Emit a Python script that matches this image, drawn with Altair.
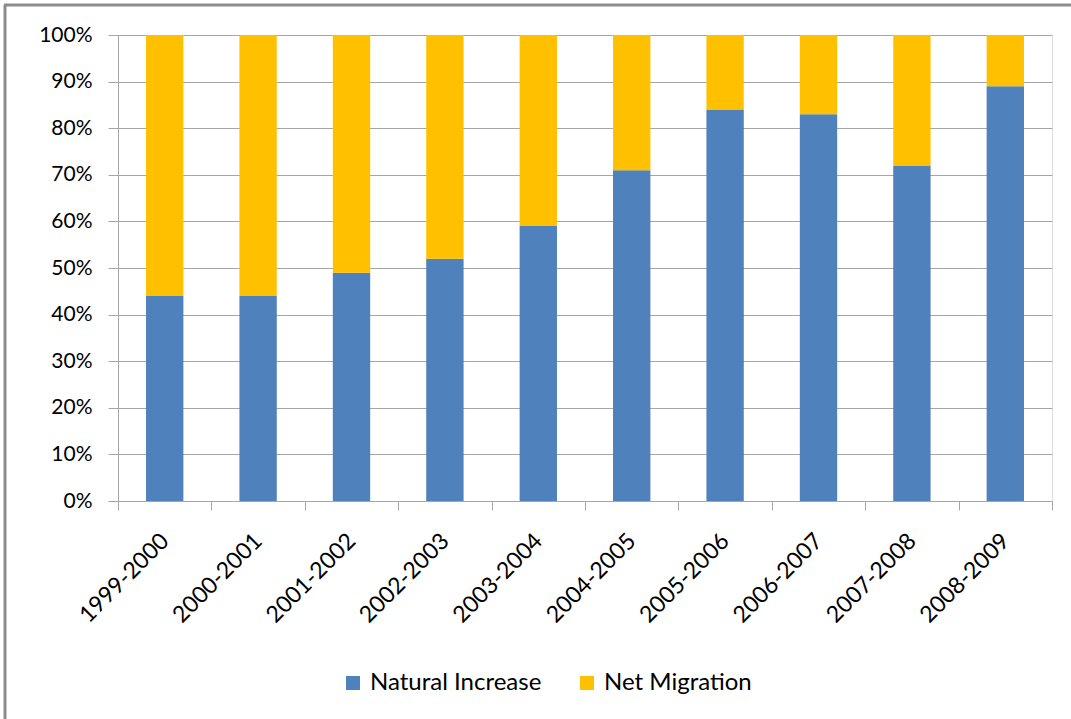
import altair as alt
import pandas as pd

periods = ["1999-2000", "2000-2001", "2001-2002", "2002-2003", "2003-2004",
           "2004-2005", "2005-2006", "2006-2007", "2007-2008", "2008-2009"]
natural_increase = [44, 44, 49, 52, 59, 71, 84, 83, 72, 89]
net_migration = [56, 56, 51, 48, 41, 29, 16, 17, 28, 11]
series = ["Natural Increase", "Net Migration"]
colors = ["#4F81BD", "#FFC000"]

rows = []
for i, p in enumerate(periods):
    rows.append({"period": p, "series": series[0], "value": natural_increase[i], "order": 0})
    rows.append({"period": p, "series": series[1], "value": net_migration[i], "order": 1})
df = pd.DataFrame(rows)

FONT = "Lato"

bars = alt.Chart(df).mark_bar(width={"band": 0.4}).encode(
    x=alt.X("period:N", sort=periods, title=None,
            scale=alt.Scale(paddingInner=0, paddingOuter=0),
            axis=alt.Axis(labelAngle=-45, labelAlign="right", labelBaseline="middle",
                          tickBand="extent", tickSize=9, labelPadding=27,
                          domainColor="#A6A6A6", tickColor="#A6A6A6", grid=False,
                          labelFontSize=23, labelFont=FONT, labelColor="#000000")),
    y=alt.Y("value:Q", stack="normalize", title=None,
            scale=alt.Scale(domain=[0, 1]),
            axis=alt.Axis(format=".0%", values=[i / 10 for i in range(11)],
                          tickSize=10, labelPadding=16, domainColor="#A6A6A6",
                          tickColor="#A6A6A6", gridColor="#A6A6A6",
                          labelFontSize=21, labelFont=FONT, labelColor="#000000")),
    color=alt.Color("series:N", sort=series,
                    scale=alt.Scale(domain=series, range=colors),
                    legend=alt.Legend(title=None, orient="none", direction="horizontal",
                                      legendX=223, legendY=636, symbolType="square",
                                      symbolSize=196, symbolStrokeWidth=0,
                                      labelFontSize=24, labelFont=FONT, labelColor="#000000",
                                      labelLimit=400, columnPadding=33, labelOffset=5)),
    order=alt.Order("order:Q", sort="ascending"),
)

one = pd.DataFrame({"a": [0]})
left_border = alt.Chart(one).mark_rule(color="#8C8C8C", strokeWidth=3).encode(
    x=alt.value(-113), y=alt.value(-30), y2=alt.value(700))
top_border = alt.Chart(one).mark_rule(color="#8C8C8C", strokeWidth=3).encode(
    x=alt.value(-114), x2=alt.value(960), y=alt.value(-30))

chart = alt.layer(bars, left_border, top_border).properties(
    width=934, height=466,
    autosize=alt.AutoSizeParams(type="none"),
    padding={"left": 118, "top": 35, "right": 19, "bottom": 218},
).configure_view(stroke=None).configure(background="white")

chart.save("out.html", embed_options={"renderer": "svg", "actions": False})
